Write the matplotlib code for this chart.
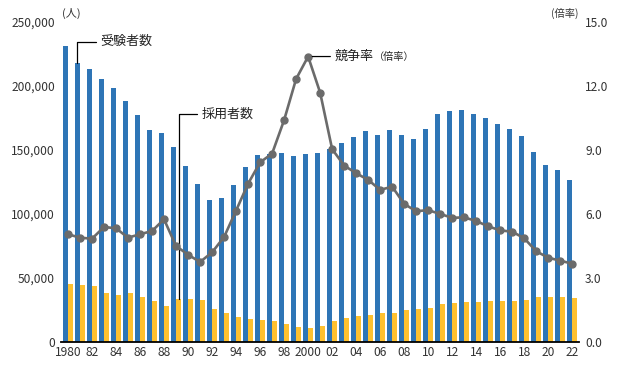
import numpy as np
import matplotlib
matplotlib.use("Agg")
import matplotlib.pyplot as plt
from matplotlib.ticker import FuncFormatter

plt.rcParams['font.family'] = ['Noto Sans CJK JP', 'DejaVu Sans']

# data
years = list(range(1980, 2023))
applicants = [231000, 218000, 213000, 205500, 198400, 188300, 177300, 165600, 163300, 152600,
              137600, 123700, 111000, 112500, 122700, 136700, 146100, 146900, 147700, 145300,
              146900, 147800, 150800, 155700, 160200, 164800, 162000, 165600, 162000, 158600,
              166400, 178100, 180500, 181200, 178100, 175000, 170300, 166400, 160900, 148400,
              138300, 134400, 126600]
hired = [45300, 44500, 43700, 38300, 36700, 38300, 35200, 32000, 28100, 33300,
         33600, 32800, 25800, 22700, 19500, 18000, 17200, 16400, 14100, 11700,
         10900, 12500, 16400, 18800, 20300, 21100, 22700, 22700, 25000, 25800,
         26600, 29700, 30500, 31300, 31300, 32000, 32000, 32000, 32800, 35200,
         35200, 35200, 34400]
ratio = [5.05, 4.89, 4.84, 5.39, 5.33, 4.89, 5.05, 5.20, 5.75, 4.50,
         4.09, 3.75, 4.20, 4.92, 6.16, 7.42, 8.42, 8.83, 10.40, 12.33,
         13.38, 11.69, 9.04, 8.27, 7.91, 7.60, 7.13, 7.28, 6.47, 6.13,
         6.18, 6.00, 5.82, 5.84, 5.67, 5.42, 5.23, 5.17, 4.86, 4.25,
         3.95, 3.81, 3.67]
xtick_labels = ['1980', '82', '84', '86', '88', '90', '92', '94', '96', '98',
                '2000', '02', '04', '06', '08', '10', '12', '14', '16', '18', '20', '22']

blue = '#2E75B6'
yellow = '#FFC12F'
gray = '#6B6B6B'
txt = '#333333'

fig = plt.figure(figsize=(6.18, 3.68), dpi=100)
ax = fig.add_axes([0.0993, 0.0707, 0.8384, 0.8696])

x = np.arange(len(years))
w = 0.42
off = 0.21
ax.bar(x - off, applicants, w, color=blue, zorder=2)
ax.bar(x + off, hired, w, color=yellow, zorder=2)

ax.set_xlim(-0.55, 42.6)
ax.set_ylim(0, 250000)
ax.set_yticks(np.arange(0, 250001, 50000))
ax.yaxis.set_major_formatter(FuncFormatter(lambda v, p: f'{int(v):,}'))
ax.set_xticks(x[::2])
ax.set_xticklabels(xtick_labels)
ax.tick_params(axis='both', length=0, labelsize=8.6, colors=txt)
ax.tick_params(axis='y', pad=4.6)
ax.tick_params(axis='x', pad=3)
for s in ['top', 'right', 'left']:
    ax.spines[s].set_visible(False)
ax.spines['bottom'].set_linewidth(1.3)
ax.spines['bottom'].set_color('black')
ax.spines['bottom'].set_zorder(5)

ax2 = ax.twinx()
ax2.plot(x, ratio, color=gray, lw=1.9, marker='o', ms=5, zorder=3)
ax2.set_ylim(0, 15)
ax2.set_yticks(np.arange(0, 15.1, 3))
ax2.yaxis.set_major_formatter(FuncFormatter(lambda v, p: f'{v:.1f}'))
ax2.tick_params(axis='y', length=0, labelsize=8.6, colors=txt, pad=4)
for s in ['top', 'right', 'left', 'bottom']:
    ax2.spines[s].set_visible(False)

# unit labels
fig.text(62 / 618, 1 - 13 / 368, '(人)', fontsize=8, color=txt, ha='left', va='center')
fig.text(578 / 618, 1 - 13 / 368, '(倍率)', fontsize=7.4, color=txt, ha='right', va='center')

line_kw = dict(arrowstyle='-', color='black', lw=0.9,
               connectionstyle='angle,angleA=0,angleB=90,rad=0', shrinkA=1, shrinkB=0)

ax.annotate('受験者数', xy=(1 - off, applicants[1]), xytext=(2.72, 234500),
            fontsize=9.4, color='#222222', ha='left', va='center',
            arrowprops=line_kw, zorder=6)
ax.annotate('採用者数', xy=(9 + off, hired[9]), xytext=(11.1, 178000),
            fontsize=9.4, color='#222222', ha='left', va='center',
            arrowprops=line_kw, zorder=6)
t = ax2.annotate('競争率', xy=(20, ratio[20]), xytext=(22.2, ratio[20]),
                 fontsize=9.4, color='#222222', ha='left', va='center',
                 arrowprops=dict(arrowstyle='-', color='black', lw=0.9, shrinkA=1, shrinkB=3),
                 zorder=6)
ax2.annotate('（倍率）', xy=(1, 0.5), xycoords=t, fontsize=7.3, color='#222222',
             ha='left', va='center')

fig.savefig('out.png', dpi=100)
